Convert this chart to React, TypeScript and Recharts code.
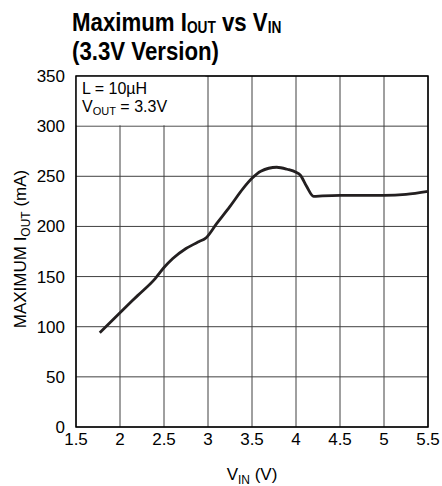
import React from "react";
import {
  LineChart,
  Line,
  XAxis,
  YAxis,
  CartesianGrid,
  ReferenceArea,
} from "recharts";

const vin = [
  1.77, 2.0, 2.2, 2.4, 2.5, 2.6, 2.75, 2.9, 2.97, 3.1, 3.25, 3.4, 3.5, 3.6,
  3.78, 3.9, 4.0, 4.05, 4.12, 4.2, 4.3, 4.5, 5.0, 5.25, 5.5,
];
const ioutMax = [
  94, 114, 131, 148, 159, 168, 178, 185, 188, 203, 220, 238, 248, 255, 259,
  257, 254, 251, 240, 230, 230.5, 231, 231, 232, 235,
];
const xTicks = [1.5, 2, 2.5, 3, 3.5, 4, 4.5, 5, 5.5];
const yTicks = [0, 50, 100, 150, 200, 250, 300, 350];

const data = vin.map((v, i) => ({ vin: v, iout: ioutMax[i] }));

const FONT = "'Liberation Sans', Arial, Helvetica, sans-serif";

const tickStyle = { fill: "#000", fontSize: 17, fontFamily: FONT };

const subStyle: React.CSSProperties = { fontSize: 16, position: "relative", top: 2 };

function XTitle() {
  return (
    <text x={252} y={480} textAnchor="middle" fontFamily={FONT} fontSize={17} fill="#000">
      V
      <tspan dy={4} fontSize={12}>IN</tspan>
      <tspan dy={-4}> (V)</tspan>
    </text>
  );
}

function YTitle() {
  return (
    <text
      x={26}
      y={249}
      transform="rotate(-90, 26, 249)"
      textAnchor="middle"
      fontFamily={FONT}
      fontSize={17}
      fill="#000"
    >
      MAXIMUM I
      <tspan dy={4} fontSize={12}>OUT</tspan>
      <tspan dy={-4}> (mA)</tspan>
    </text>
  );
}

function Note() {
  return (
    <g fontFamily={FONT} fontSize={16} fill="#000">
      <text x={82} y={94}>L = 10µH</text>
      <text x={82} y={112}>
        V
        <tspan dy={3} fontSize={11}>OUT</tspan>
        <tspan dy={-3}> = 3.3V</tspan>
      </text>
    </g>
  );
}

export default function App() {
  return (
    <div style={{ position: "absolute", left: 0, top: 0, width: 442, height: 486, background: "#fff" }}>
      <div
        style={{
          position: "absolute",
          left: 72,
          top: 10,
          fontFamily: FONT,
          fontWeight: "bold",
          fontSize: 26,
          lineHeight: "25px",
          color: "#000",
          whiteSpace: "nowrap",
          transform: "scaleX(0.855)",
          transformOrigin: "left top",
        }}
      >
        <div>
          Maximum I<span style={subStyle}>OUT</span>
          {" vs V"}
          <span style={subStyle}>IN</span>
        </div>
        <div style={{ marginTop: 1 }}>(3.3V Version)</div>
      </div>
      <LineChart
        width={442}
        height={486}
        data={data}
        margin={{ top: 76, right: 14, bottom: 0, left: 0 }}
      >
        <CartesianGrid stroke="#404040" strokeWidth={1} />
        <XAxis
          dataKey="vin"
          type="number"
          domain={[1.5, 5.5]}
          ticks={xTicks}
          tickFormatter={(v) => String(v)}
          tick={tickStyle}
          tickLine={false}
          axisLine={false}
          tickSize={0}
          tickMargin={6}
          height={59}
          label={() => <XTitle />}
        />
        <YAxis
          type="number"
          domain={[0, 350]}
          ticks={yTicks}
          tick={tickStyle}
          tickLine={false}
          axisLine={false}
          tickSize={0}
          tickMargin={11}
          width={76}
          label={() => <YTitle />}
        />
        <ReferenceArea
          x1={1.5}
          x2={2.97}
          y1={301}
          y2={350}
          fill="#fff"
          fillOpacity={1}
          stroke="none"
          label={() => <Note />}
        />
        <Line
          dataKey="iout"
          type="monotone"
          stroke="#231f20"
          strokeWidth={2.8}
          dot={false}
          isAnimationActive={false}
        />
        <ReferenceArea
          x1={1.5}
          x2={5.5}
          y1={0}
          y2={350}
          fill="none"
          stroke="#000"
          strokeWidth={1.5}
        />
      </LineChart>
    </div>
  );
}
